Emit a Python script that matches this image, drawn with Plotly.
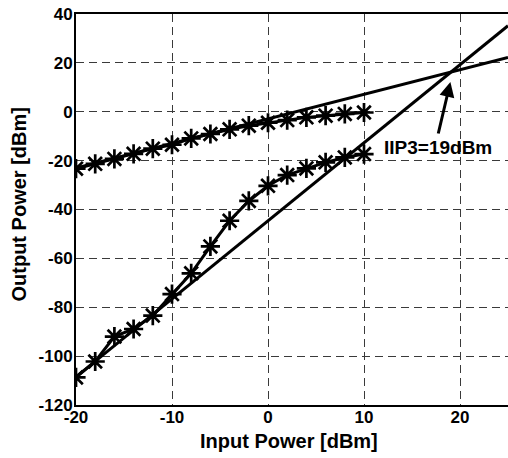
import plotly.graph_objects as go

pin = [-20, -18, -16, -14, -12, -10, -8, -6, -4, -2, 0, 2, 4, 6, 8, 10]
fund = [-23.3, -21.3, -19.3, -17.2, -15.1, -13.5, -10.9, -9.1, -7.2, -5.7, -4.5, -3.4, -2.3, -1.6, -0.9, -0.3]
im3 = [-108.7, -102.2, -92.0, -88.9, -83.4, -74.6, -66.1, -55.1, -44.6, -36.5, -30.3, -25.9, -23.2, -20.7, -18.7, -17.3]

fund_fit_x = [-20, 25]
fund_fit_y = [-23.0, 22.2]
im3_fit_x = [-20, 25]
im3_fit_y = [-108.5, 35.2]

x_ticks = [-20, -10, 0, 10, 20]
x_ticklabels = ["-20", "-10", "0", "10", "20"]
y_ticks = [-120, -100, -80, -60, -40, -20, 0, 20, 40]
y_ticklabels = ["-120", "-100", "-80", "-60", "-40", "-20", "0", "20", "40"]

iip3_x = 19.0
iip3_y = 12.2
arrow_tail_x = 17.7
arrow_tail_y = -9.5
label_x = 17.66
label_y = -14.8

FAM = "Liberation Sans"
fig = go.Figure()
line_style = dict(color="black", width=3)
fig.add_trace(go.Scatter(x=fund_fit_x, y=fund_fit_y, mode="lines", line=line_style))
fig.add_trace(go.Scatter(x=im3_fit_x, y=im3_fit_y, mode="lines", line=line_style))
for ys in (fund, im3):
    fig.add_trace(go.Scatter(
        x=pin, y=ys, mode="lines+markers", line=line_style,
        marker=dict(symbol="asterisk-open", size=16, color="black",
                    line=dict(color="black", width=2.7)),
    ))

fig.add_annotation(
    x=iip3_x, y=iip3_y, ax=arrow_tail_x, ay=arrow_tail_y,
    xref="x", yref="y", axref="x", ayref="y",
    showarrow=True, arrowhead=2, arrowsize=1.0, arrowwidth=3, arrowcolor="black",
    text="",
)
fig.add_annotation(
    x=label_x, y=label_y, xref="x", yref="y", showarrow=False,
    text="IIP3=19dBm",
    font=dict(family=FAM, size=19, color="black", weight="bold"),
)
title_font = dict(family=FAM, size=20, color="black", weight="bold")
fig.add_annotation(
    x=0.5, y=0.0, xref="paper", yref="paper", yshift=-36, xshift=-3,
    text="Input Power [dBm]", showarrow=False, font=title_font,
    xanchor="center", yanchor="middle",
)
fig.add_annotation(
    x=0, y=0.5, xref="paper", yref="paper", xshift=-58, yshift=5,
    text="Output Power [dBm]", showarrow=False, font=title_font, textangle=-90,
    xanchor="center", yanchor="middle",
)

tick_font = dict(family=FAM, size=17, color="black", weight="bold")
axis_common = dict(
    showgrid=True, gridcolor="#3a3a3a", gridwidth=1, griddash="8px,5px",
    showline=True, linecolor="black", linewidth=2,
    ticks="", tickfont=tick_font, zeroline=False, automargin=False,
)
fig.update_xaxes(range=[-20, 25], tickvals=x_ticks, ticktext=x_ticklabels,
                 mirror=True, ticklabelstandoff=-4, **axis_common)
fig.update_yaxes(range=[-120, 40], tickvals=y_ticks, ticktext=y_ticklabels,
                 mirror=False, ticklabelstandoff=-2, **axis_common)

fig.update_layout(
    width=508, height=458,
    margin=dict(l=76, r=0, t=14, b=53),
    plot_bgcolor="white", paper_bgcolor="white",
    showlegend=False,
)
fig.write_html("out.html", config={"displayModeBar": False},
               post_script="document.body.style.margin='0';")
